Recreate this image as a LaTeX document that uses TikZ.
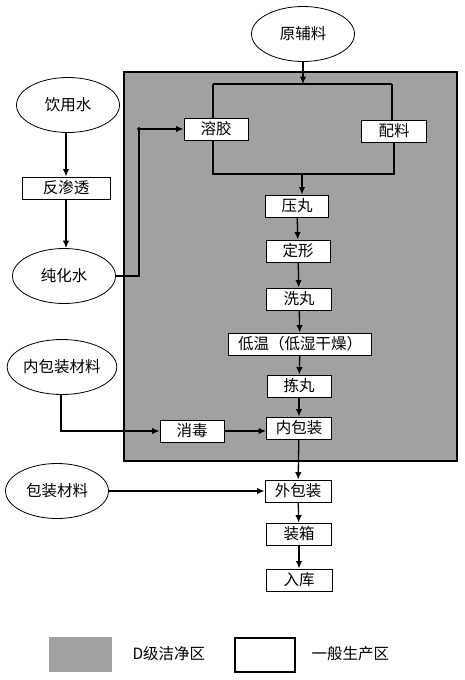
\documentclass[tikz,border=0pt]{standalone}
\usepackage{fontspec}
\newfontfamily\cjk{Noto Sans CJK SC}
\usetikzlibrary{shapes.geometric,arrows.meta}
\definecolor{zonegray}{HTML}{A2A0A3}
\begin{document}
\begin{tikzpicture}[x=1pt,y=-1pt,
  font=\cjk\fontsize{15.5}{18}\selectfont,
  procbox/.style={draw=black,line width=0.9pt,fill=white,inner sep=0pt,minimum height=22pt},
  oval/.style={ellipse,draw=black,line width=0.8pt,fill=white,inner sep=0pt,minimum width=103pt,minimum height=55pt},
  conn/.style={line width=1.3pt},
  arr/.style={conn,-{Latex[length=7.5pt,width=6.5pt]}}]
\useasboundingbox (0,0) rectangle (464,680);
\fill[white] (0,0) rectangle (464,680);
% clean zone
\draw[line width=1.5pt,fill=zonegray] (124,72) rectangle (457,461);
% nodes
\node[oval] (yfl) at (303,34) {原辅料};
\node[oval] (yys) at (68,105) {饮用水};
\node[procbox,minimum width=88pt] (fst) at (66,188) {反渗透};
\node[oval] (chs) at (64,276) {纯化水};
\node[oval] (nbc) at (62,367) {内包装材料};
\node[oval] (bzc) at (57,491) {包装材料};
\node[procbox,minimum width=64pt] (rj) at (216,129) {溶胶};
\node[procbox,minimum width=65pt] (pl) at (394,131) {配料};
\node[procbox,minimum width=63pt] (yw) at (297,206) {压丸};
\node[procbox,minimum width=64pt] (dx) at (298,251) {定形};
\node[procbox,minimum width=65pt] (xw) at (299,299) {洗丸};
\node[procbox,minimum width=143pt] (dw) at (300,344) {低温（低湿干燥）};
\node[procbox,minimum width=64pt] (jw) at (299,386) {拣丸};
\node[procbox,minimum width=65pt] (nbz) at (299,428) {内包装};
\node[procbox,minimum width=64pt] (xd) at (192,431) {消毒};
\node[procbox,minimum width=66pt] (wbz) at (298,491) {外包装};
\node[procbox,minimum width=65pt] (zx) at (299,534) {装箱};
\node[procbox,minimum width=66pt] (rk) at (299,580) {入库};
% connectors: raw materials
\coordinate (top) at (303,84);
\coordinate (tl) at (213,84);
\coordinate (tr) at (392,84);
\draw[arr] (yfl.south) -- (top);
\draw[conn] (tl) -- (tr);
\draw[conn] (tl) -- (tl |- rj.north);
\draw[conn] (tr) -- (tr |- pl.north);
\coordinate (bl) at (213,174);
\coordinate (br) at (394,174);
\coordinate (bm) at (302,174);
\draw[conn] (rj.south -| bl) -- (bl) -- (br) -- (pl.south -| br);
\draw[arr] (bm) -- (yw.north -| bm);
% water
\draw[arr] (yys.south -| fst.north) -- (fst.north);
\draw[arr] (fst.south) -- (fst.south |- chs.north);
\coordinate (c1) at (139,129);
\draw[conn,fill=black] (c1) circle (1.2pt);
\draw[arr] (chs.east) -| (c1) -- (rj.west);
% main chain
\draw[arr] (yw) -- (dx);
\draw[arr] (dx) -- (xw);
\draw[arr] (xw) -- (dw);
\draw[arr] (dw) -- (jw);
\draw[arr] (jw) -- (nbz);
\draw[arr] (nbz) -- (wbz);
\draw[arr] (wbz) -- (zx);
\draw[arr] (zx) -- (rk);
% packaging
\coordinate (c2) at (61,431);
\draw[arr] (nbc.south -| c2) -- (c2) -- (xd.west);
\draw[arr] (xd.east) -- (nbz.west |- xd.east);
\draw[arr] (bzc.east) -- (wbz.west);
% legend
\fill[zonegray] (49,637) rectangle (112,672);
\node[anchor=west] (lg1) at (129,654) {D级洁净区};
\draw[line width=2pt,fill=white] (235,638) rectangle (295,672);
\node[anchor=west] (lg2) at (308,654) {一般生产区};
\end{tikzpicture}
\end{document}
